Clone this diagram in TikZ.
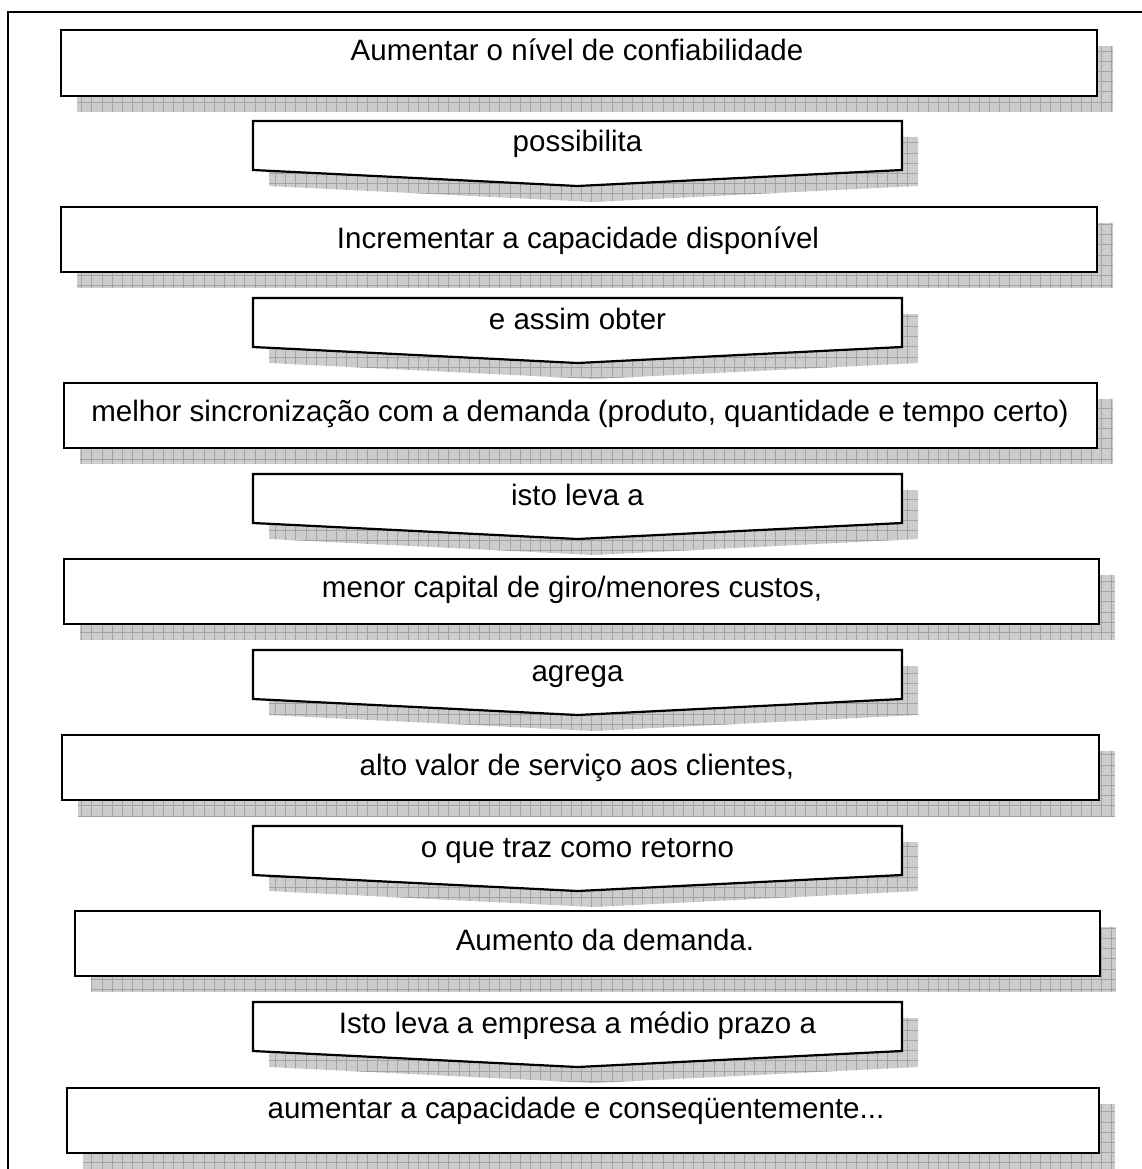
\documentclass[tikz,border=0pt]{standalone}
\usepackage{fontspec}
\setmainfont{Liberation Sans}
\tikzset{
  shadowfill/.style={fill=black!20},
  shadowgrid/.style={draw=black!36,line width=0.7pt},
  boxline/.style={draw=black,line width=2.2pt,fill=white,line join=miter},
  frameline/.style={draw=black,line width=2.6pt},
  lbl/.style={inner sep=0pt,font=\fontsize{29.5}{34}\selectfont,anchor=base}
}
% #1 name, #2 left, #3 top, #4 right, #5 bottom, #6 text x, #7 baseline, #8 text
\newcommand{\flowbox}[8]{%
  \begin{scope}
    \clip (#2+16,#3+16) rectangle (#4+16,#5+16);
    \fill[shadowfill] (#2+16,#3+16) rectangle (#4+16,#5+16);
    \draw[shadowgrid,step=10.2pt] (#2+16,#3+16) grid (#4+16,#5+16);
  \end{scope}
  \draw[boxline] (#2,#3) rectangle (#4,#5);
  \node[lbl] (#1) at (#6,#7) {#8};
}
% #1 name, #2 top, #3 text
\newcommand{\flowarrow}[3]{%
  \begin{scope}
    \clip (269,#2+16) -- (918,#2+16) -- (918,#2+65) -- (593.5,#2+81) -- (269,#2+65) -- cycle;
    \fill[shadowfill] (260,#2) rectangle (925,#2+90);
    \draw[shadowgrid,step=10.2pt] (260,#2) grid (925,#2+90);
  \end{scope}
  \draw[boxline] (253,#2) -- (902,#2) -- (902,#2+49) -- (577.5,#2+65) -- (253,#2+49) -- cycle;
  \node[lbl] (#1) at (577.5,#2+31) {#3};
}
\begin{document}
\begin{tikzpicture}[x=1pt,y=-1pt]
\useasboundingbox (0,0) rectangle (1142,1169);
\draw[frameline] (8,1169) -- (8,12) -- (1142,12);
\flowbox{b1}{61}{30}{1097}{96}{577}{61}{Aumentar o nível de confiabilidade}
\flowarrow{a1}{121}{possibilita}
\flowbox{b2}{61}{207}{1097}{272}{578}{248}{Incrementar a capacidade disponível}
\flowarrow{a2}{298}{e assim obter}
\flowbox{b3}{64}{383}{1097}{448}{580}{421}{melhor sincronização com a demanda (produto, quantidade e tempo certo)}
\flowarrow{a3}{474}{isto leva a}
\flowbox{b4}{64}{559}{1099}{624}{572}{597}{menor capital de giro/menores custos,}
\flowarrow{a4}{650}{agrega}
\flowbox{b5}{62}{735}{1099}{800}{577}{775}{alto valor de serviço aos clientes,}
\flowarrow{a5}{826}{o que traz como retorno}
\flowbox{b6}{75}{911}{1100}{976}{605}{950}{Aumento da demanda.}
\flowarrow{a6}{1002}{Isto leva a empresa a médio prazo a}
\flowbox{b7}{67}{1088}{1099}{1153}{576}{1118}{aumentar a capacidade e conseqüentemente...}
\end{tikzpicture}
\end{document}
